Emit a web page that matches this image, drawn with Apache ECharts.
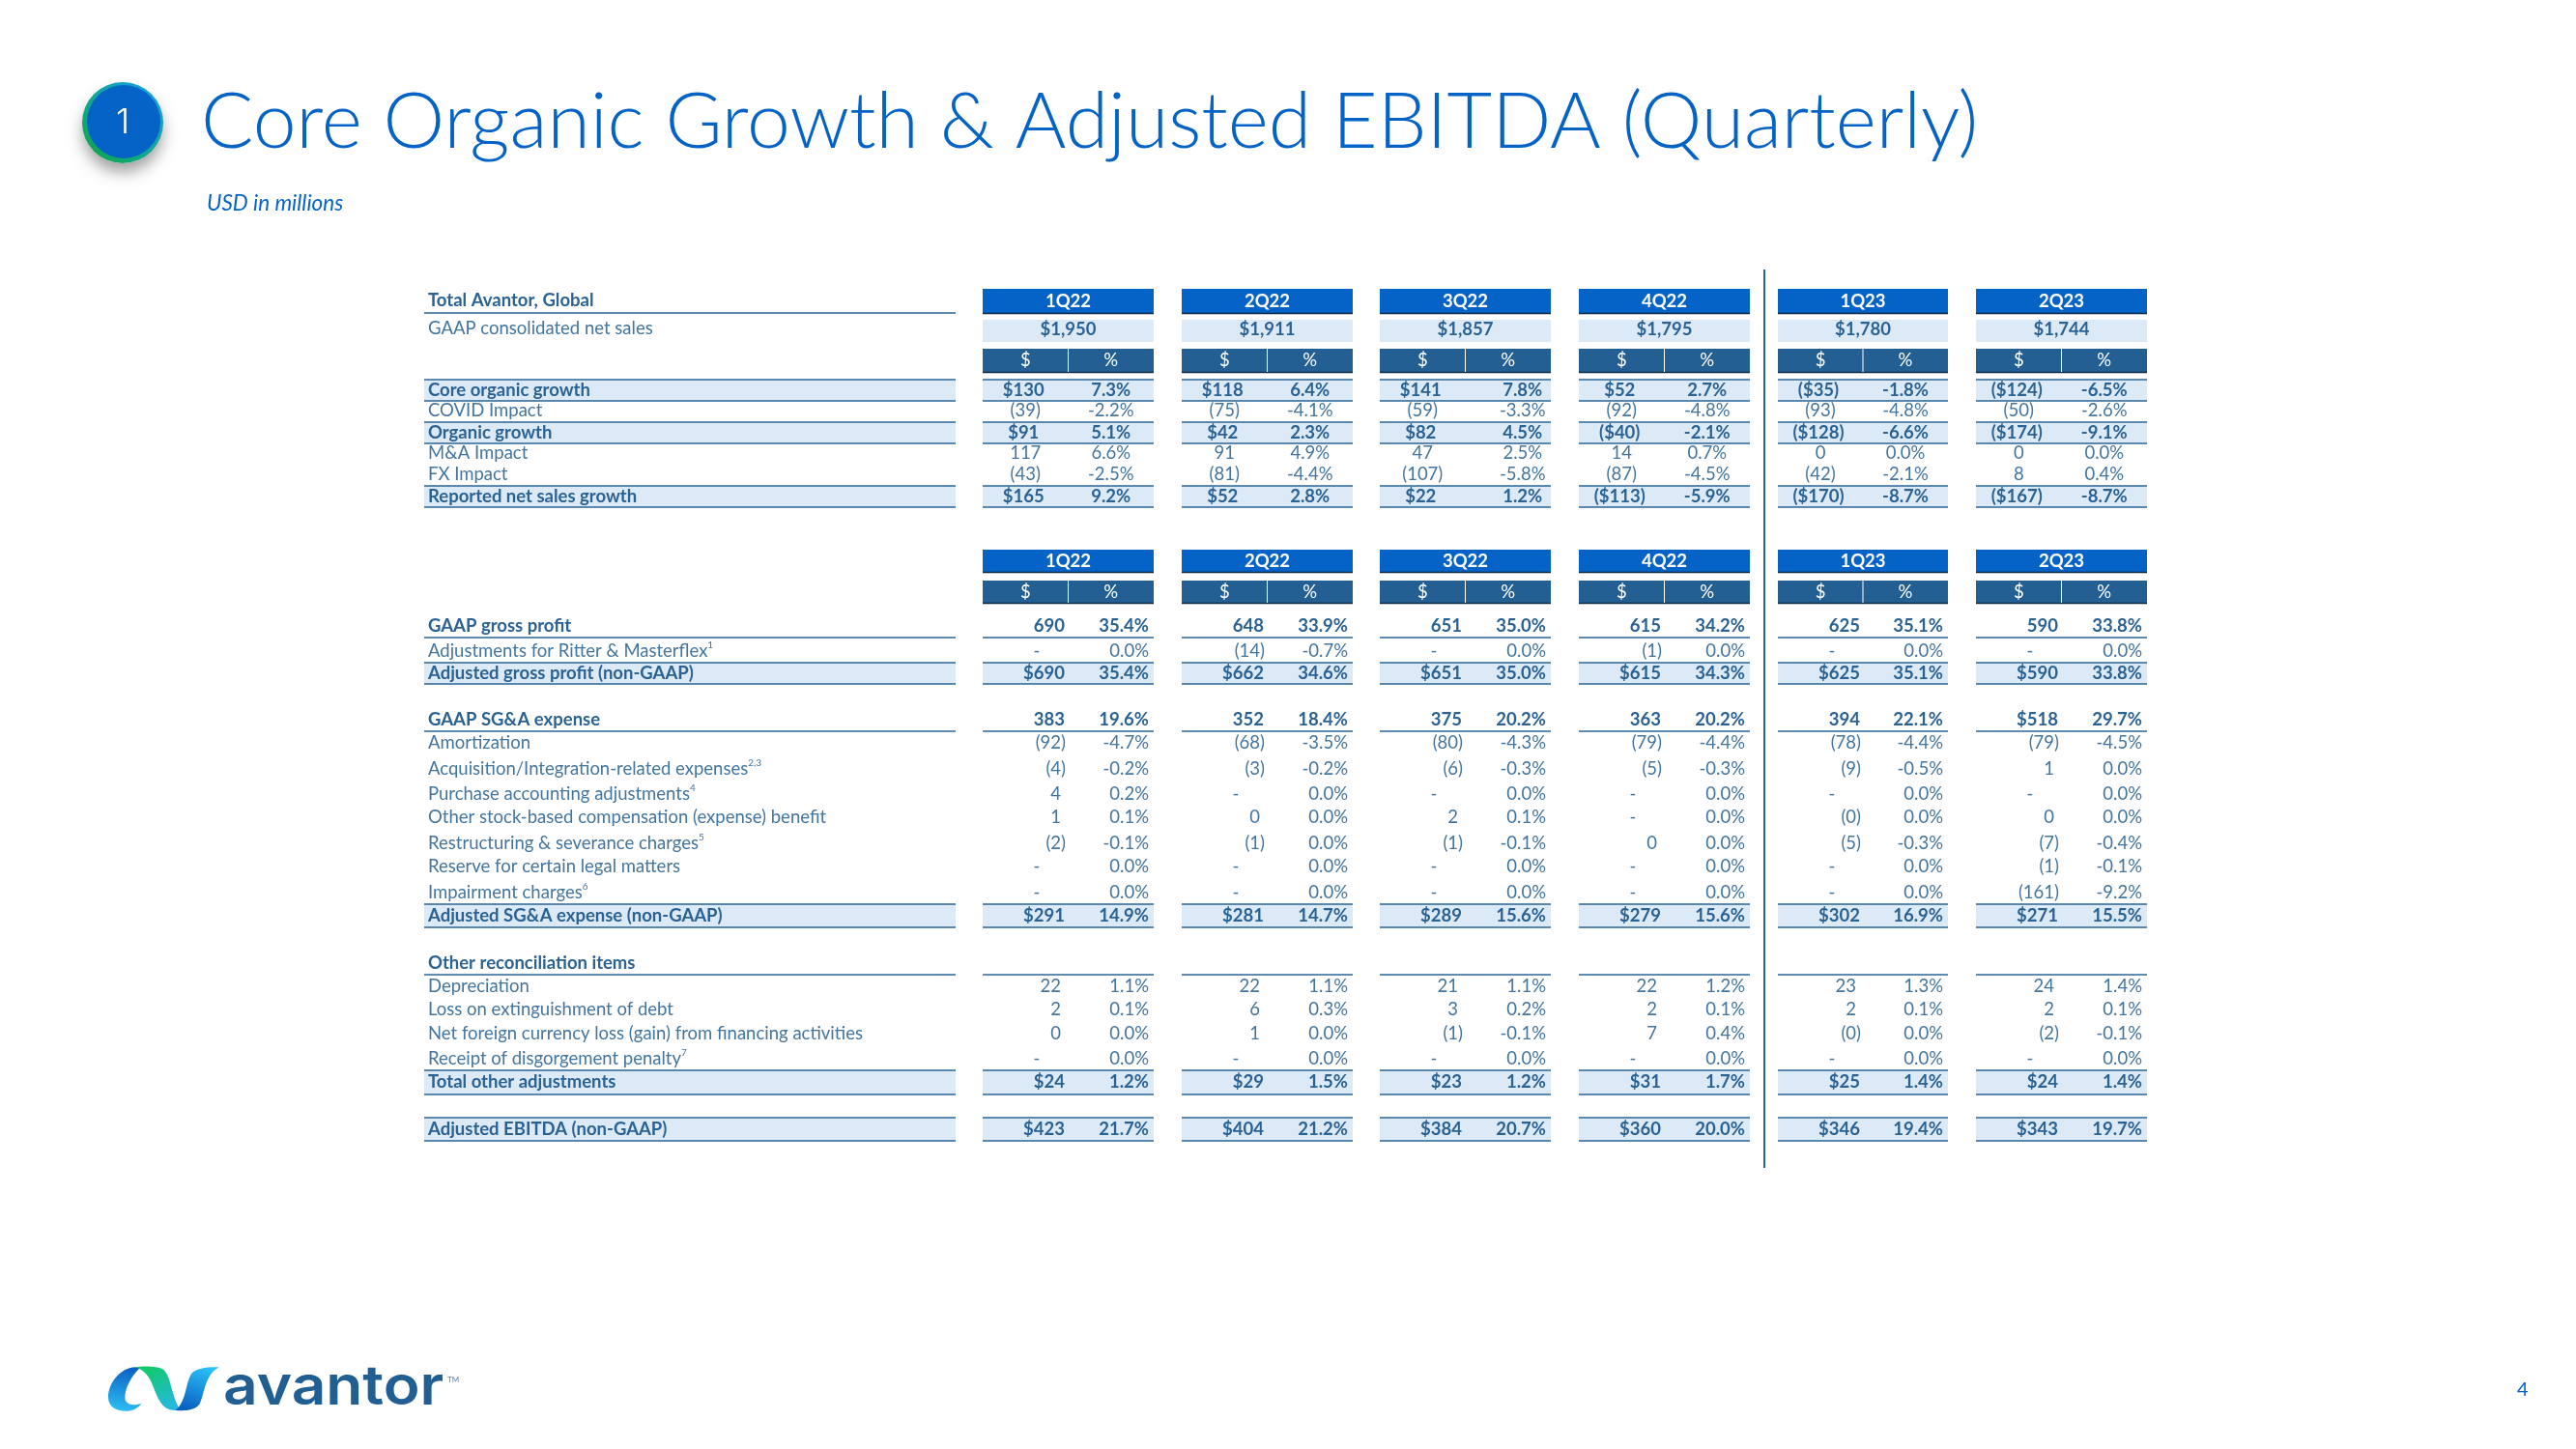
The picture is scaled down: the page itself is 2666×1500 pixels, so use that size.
<!DOCTYPE html>
<html>
<head>
<meta charset="utf-8">
<style>html,body{margin:0;padding:0;background:#fff}#c{width:2666px;height:1500px}</style>
<script src="https://cdn.jsdelivr.net/npm/echarts@6/dist/echarts.min.js"></script>
</head>
<body>
<div id="c"></div>
<script>
// ---------- data ----------
const quarters = ['1Q22','2Q22','3Q22','4Q22','1Q23','2Q23'];
const netSales = ['$1,950','$1,911','$1,857','$1,795','$1,780','$1,744'];

const coreOrganicUsd = ['$130','$118','$141','$52','($35)','($124)'];
const coreOrganicPct = ['7.3%','6.4%','7.8%','2.7%','-1.8%','-6.5%'];
const covidUsd = ['(39)','(75)','(59)','(92)','(93)','(50)'];
const covidPct = ['-2.2%','-4.1%','-3.3%','-4.8%','-4.8%','-2.6%'];
const organicUsd = ['$91','$42','$82','($40)','($128)','($174)'];
const organicPct = ['5.1%','2.3%','4.5%','-2.1%','-6.6%','-9.1%'];
const maUsd = ['117','91','47','14','0','0'];
const maPct = ['6.6%','4.9%','2.5%','0.7%','0.0%','0.0%'];
const fxUsd = ['(43)','(81)','(107)','(87)','(42)','8'];
const fxPct = ['-2.5%','-4.4%','-5.8%','-4.5%','-2.1%','0.4%'];
const reportedUsd = ['$165','$52','$22','($113)','($170)','($167)'];
const reportedPct = ['9.2%','2.8%','1.2%','-5.9%','-8.7%','-8.7%'];

const grossUsd = ['690','648','651','615','625','590'];
const grossPct = ['35.4%','33.9%','35.0%','34.2%','35.1%','33.8%'];
const ritterUsd = ['-','(14)','-','(1)','-','-'];
const ritterPct = ['0.0%','-0.7%','0.0%','0.0%','0.0%','0.0%'];
const adjGrossUsd = ['$690','$662','$651','$615','$625','$590'];
const adjGrossPct = ['35.4%','34.6%','35.0%','34.3%','35.1%','33.8%'];

const sgaUsd = ['383','352','375','363','394','$518'];
const sgaPct = ['19.6%','18.4%','20.2%','20.2%','22.1%','29.7%'];
const amortUsd = ['(92)','(68)','(80)','(79)','(78)','(79)'];
const amortPct = ['-4.7%','-3.5%','-4.3%','-4.4%','-4.4%','-4.5%'];
const acqUsd = ['(4)','(3)','(6)','(5)','(9)','1'];
const acqPct = ['-0.2%','-0.2%','-0.3%','-0.3%','-0.5%','0.0%'];
const purchaseUsd = ['4','-','-','-','-','-'];
const purchasePct = ['0.2%','0.0%','0.0%','0.0%','0.0%','0.0%'];
const stockUsd = ['1','0','2','-','(0)','0'];
const stockPct = ['0.1%','0.0%','0.1%','0.0%','0.0%','0.0%'];
const restructUsd = ['(2)','(1)','(1)','0','(5)','(7)'];
const restructPct = ['-0.1%','0.0%','-0.1%','0.0%','-0.3%','-0.4%'];
const legalUsd = ['-','-','-','-','-','(1)'];
const legalPct = ['0.0%','0.0%','0.0%','0.0%','0.0%','-0.1%'];
const impairUsd = ['-','-','-','-','-','(161)'];
const impairPct = ['0.0%','0.0%','0.0%','0.0%','0.0%','-9.2%'];
const adjSgaUsd = ['$291','$281','$289','$279','$302','$271'];
const adjSgaPct = ['14.9%','14.7%','15.6%','15.6%','16.9%','15.5%'];

const deprUsd = ['22','22','21','22','23','24'];
const deprPct = ['1.1%','1.1%','1.1%','1.2%','1.3%','1.4%'];
const debtUsd = ['2','6','3','2','2','2'];
const debtPct = ['0.1%','0.3%','0.2%','0.1%','0.1%','0.1%'];
const netFxUsd = ['0','1','(1)','7','(0)','(2)'];
const netFxPct = ['0.0%','0.0%','-0.1%','0.4%','0.0%','-0.1%'];
const disgorgeUsd = ['-','-','-','-','-','-'];
const disgorgePct = ['0.0%','0.0%','0.0%','0.0%','0.0%','0.0%'];
const otherUsd = ['$24','$29','$23','$31','$25','$24'];
const otherPct = ['1.2%','1.5%','1.2%','1.7%','1.4%','1.4%'];
const ebitdaUsd = ['$423','$404','$384','$360','$346','$343'];
const ebitdaPct = ['21.7%','21.2%','20.7%','20.0%','19.4%','19.7%'];

// ---------- layout (pixel scale of the hidden axes) ----------
const colLeft  = [1017,1223,1428,1634,1840,2045];
const colRight = [1194,1400,1605,1811,2016,2222];
const pctShift = [0,0,15,0,0,0];            // 3Q22 percent column sits further right in table one
const C = {head:'#0563C8', sub:'#235F93', band:'#DCE9F6', rule:'#2A6496', dark:'#0E2A45', bold:'#2B6294', norm:'#44759F', white:'#ffffff'};
const FONT = 'Lato';
const SIZE = 18.5;
const RULE_W = 1.5;
const TEXT_NUDGE = 1;

// kind: band = filled with rules; head = bold with rule underneath; plain
const topRows = [
  {label:'Core organic growth', usd:coreOrganicUsd, pct:coreOrganicPct, kind:'band', top:393, bottom:415},
  {label:'COVID Impact', usd:covidUsd, pct:covidPct, kind:'plain', y:424},
  {label:'Organic growth', usd:organicUsd, pct:organicPct, kind:'band', top:437, bottom:459},
  {label:'M&A Impact', usd:maUsd, pct:maPct, kind:'plain', y:468},
  {label:'FX Impact', usd:fxUsd, pct:fxPct, kind:'plain', y:490},
  {label:'Reported net sales growth', usd:reportedUsd, pct:reportedPct, kind:'band', top:503, bottom:525}
];
const lowRows = [
  {label:'GAAP gross profit', usd:grossUsd, pct:grossPct, kind:'head', y:647, rule:660},
  {label:'Adjustments for Ritter & Masterflex', sup:'1', usd:ritterUsd, pct:ritterPct, kind:'plain', y:673},
  {label:'Adjusted gross profit (non-GAAP)', usd:adjGrossUsd, pct:adjGrossPct, kind:'band', top:686, bottom:708},
  {label:'GAAP SG&A expense', usd:sgaUsd, pct:sgaPct, kind:'head', y:744, rule:757},
  {label:'Amortization', usd:amortUsd, pct:amortPct, kind:'plain', y:768},
  {label:'Acquisition/Integration-related expenses', sup:'2,3', usd:acqUsd, pct:acqPct, kind:'plain', y:795},
  {label:'Purchase accounting adjustments', sup:'4', usd:purchaseUsd, pct:purchasePct, kind:'plain', y:821},
  {label:'Other stock-based compensation (expense) benefit', usd:stockUsd, pct:stockPct, kind:'plain', y:845},
  {label:'Restructuring & severance charges', sup:'5', usd:restructUsd, pct:restructPct, kind:'plain', y:872},
  {label:'Reserve for certain legal matters', usd:legalUsd, pct:legalPct, kind:'plain', y:896},
  {label:'Impairment charges', sup:'6', usd:impairUsd, pct:impairPct, kind:'plain', y:923},
  {label:'Adjusted SG&A expense (non-GAAP)', usd:adjSgaUsd, pct:adjSgaPct, kind:'band', top:936, bottom:960},
  {label:'Other reconciliation items', kind:'head', y:996, rule:1009},
  {label:'Depreciation', usd:deprUsd, pct:deprPct, kind:'plain', y:1020},
  {label:'Loss on extinguishment of debt', usd:debtUsd, pct:debtPct, kind:'plain', y:1044},
  {label:'Net foreign currency loss (gain) from financing activities', usd:netFxUsd, pct:netFxPct, kind:'plain', y:1069},
  {label:'Receipt of disgorgement penalty', sup:'7', usd:disgorgeUsd, pct:disgorgePct, kind:'plain', y:1095},
  {label:'Total other adjustments', usd:otherUsd, pct:otherPct, kind:'band', top:1108, bottom:1133},
  {label:'Adjusted EBITDA (non-GAAP)', usd:ebitdaUsd, pct:ebitdaPct, kind:'band', top:1157, bottom:1181}
];

// ---------- build marks ----------
const LX0 = 439, LX1 = 989, LT = 443;
const rects = [], rules = [], texts = [];
function rect(x0,x1,y0,y1,fill){rects.push({x0,x1,y0,y1,fill});}
function rule(x0,x1,y,color,w){rules.push({x0,x1,y0:y,y1:y,color,w});}
function vrule(x,y0,y1,color,w){rules.push({x0:x,x1:x,y0,y1,color,w});}
function text(x,y,t,o){texts.push(Object.assign({x,y,t,align:'left',bold:false,fill:C.norm},o||{}));}
function spanAll(fn){fn(LX0,LX1);colLeft.forEach((l,i)=>fn(l,colRight[i]));}

function headerRow(top,bottom){
  colLeft.forEach((l,i)=>{
    rect(l,colRight[i],top,bottom,C.head);
    rule(l,colRight[i],bottom-0.5,C.dark,RULE_W);
    text((l+colRight[i])/2,(top+bottom)/2,quarters[i],{align:'center',bold:true,fill:C.white});
  });
}
function unitRow(top,bottom){
  colLeft.forEach((l,i)=>{
    const m=(l+colRight[i])/2;
    rect(l,colRight[i],top,bottom,C.sub);
    rule(l,colRight[i],bottom-0.5,C.dark,RULE_W);
    vrule(m,top,bottom-1,C.white,1);
    text((l+m)/2,(top+bottom)/2,'$',{align:'center',fill:C.white});
    text((m+colRight[i])/2,(top+bottom)/2,'%',{align:'center',fill:C.white});
  });
}
function placeBands(r){
  spanAll((a,b)=>{
    if(r.kind==='band'){rect(a,b,r.top,r.bottom,C.band);rule(a,b,r.top,C.rule,RULE_W);rule(a,b,r.bottom,C.rule,RULE_W);}
    if(r.kind==='head'){rule(a,b,r.rule,C.rule,RULE_W);}
  });
  r.cy = (r.kind==='band' ? (r.top+r.bottom)/2-1 : r.y)+TEXT_NUDGE;
  r.strong = r.kind!=='plain';
}

// table one: centred values
headerRow(299,325);
text(LT,311,'Total Avantor, Global',{bold:true,fill:C.bold});
rule(LX0,LX1,324,C.rule,RULE_W);
text(LT,340,'GAAP consolidated net sales');
colLeft.forEach((l,i)=>{
  rect(l,colRight[i],331,354,C.band);
  text((l+colRight[i])/2,341,netSales[i],{align:'center',bold:true,fill:C.bold});
});
unitRow(361,386);
topRows.forEach(r=>{
  placeBands(r);
  text(LT,r.cy,r.label,{bold:r.strong,fill:r.strong?C.bold:C.norm});
  colLeft.forEach((l,i)=>{
    const w=(colRight[i]-l)/4;
    const f=r.strong?C.bold:C.norm;
    text(l+w-(r.strong?2:0),r.cy,r.usd[i],{align:'center',bold:r.strong,fill:f});
    text(l+3*w+pctShift[i],r.cy,r.pct[i],{align:'center',bold:r.strong,fill:f});
  });
});

// table two: right-aligned values
headerRow(569,593);
unitRow(601,625);
lowRows.forEach(r=>{
  placeBands(r);
  text(LT,r.cy,r.label,{bold:r.strong,fill:r.strong?C.bold:C.norm,sup:r.sup});
  if(!r.usd) return;
  colLeft.forEach((l,i)=>{
    const f=r.strong?C.bold:C.norm;
    const v=r.usd[i];
    const right=l+85;
    if(v==='-') text(right-29,r.cy,v,{align:'center',fill:f});
    else if(r.strong) text(right,r.cy,v,{align:'right',bold:true,fill:f});
    else if(v[0]==='(') text(right+1,r.cy,v,{align:'right',fill:f});
    else text(right-4,r.cy,v,{align:'right',fill:f});
    text(colRight[i]-5,r.cy,r.pct[i],{align:'right',bold:r.strong,fill:f});
  });
});
const divider = {x:1826,y0:279,y1:1209};
vrule(divider.x,divider.y0,divider.y1,C.rule,2);

// ---------- logo shapes ----------
echarts.graphic.registerShape('ribbonLeft',echarts.graphic.extendPath('M150 76 C100 78 65 130 66 170 C66 200 95 213 125 212 C145 211 160 200 170 188 C150 195 128 195 120 180 C112 160 130 110 165 78 Z',{}));
echarts.graphic.registerShape('ribbonMid',echarts.graphic.extendPath('M150 76 C175 72 215 72 235 82 C262 100 262 170 290 208 L275 210 C230 210 220 170 205 135 C195 108 180 85 150 76 Z',{}));
echarts.graphic.registerShape('ribbonRight',echarts.graphic.extendPath('M410 76 C380 74 340 78 325 95 C305 125 310 180 275 210 C300 212 335 212 350 190 C365 160 365 100 410 76 Z',{}));

// ---------- chart ----------
const chart = echarts.init(document.getElementById('c'),null,{renderer:'canvas'});
const titleBlue = '#0563C8';
chart.setOption({
  animation:false,
  backgroundColor:'#ffffff',
  title:[
    {text:'Core Organic Growth & Adjusted EBITDA (Quarterly)',left:203,top:74,
     textStyle:{color:titleBlue,fontFamily:FONT,fontWeight:300,fontSize:80.5,lineHeight:96}},
    {text:'USD in millions',left:209,top:193,
     textStyle:{color:titleBlue,fontFamily:FONT,fontWeight:400,fontStyle:'italic',fontSize:22.5,lineHeight:26}},
    {text:'4',left:2600,top:1423,textStyle:{color:titleBlue,fontFamily:FONT,fontWeight:400,fontSize:20,lineHeight:22}}
  ],
  grid:{left:0,right:0,top:0,bottom:0,containLabel:false},
  xAxis:{type:'value',min:0,max:2666,show:false},
  yAxis:{type:'value',min:0,max:1500,inverse:true,show:false},
  graphic:[
    {type:'circle',shape:{cx:127,cy:128,r:41},style:{fill:'#ffffff',shadowBlur:16,shadowOffsetY:9,shadowColor:'rgba(0,0,0,0.38)'},z:1},
    {type:'circle',shape:{cx:127,cy:127,r:42},z:2,style:{fill:{type:'linear',x:0,y:1,x2:1,y2:0,colorStops:[{offset:0,color:'#0FA53C'},{offset:0.45,color:'#10A890'},{offset:1,color:'#1A9BF0'}]}}},
    {type:'circle',shape:{cx:128,cy:126,r:38},z:3,style:{fill:'#0563C8'}},
    {type:'text',x:127,y:127,z:4,style:{text:'1',fill:'#fff',fontFamily:'Inter',fontWeight:300,fontSize:36,align:'center',verticalAlign:'middle'}},
    {type:'group',x:90,y:1390,scaleX:1/3,scaleY:1/3,z:5,children:[
      {type:'ribbonLeft',shape:{},
       style:{fill:{type:'linear',x:0.6,y:0,x2:0.4,y2:1,colorStops:[{offset:0,color:'#0A5FC4'},{offset:1,color:'#2DBDF2'}]}}},
      {type:'ribbonMid',shape:{},
       style:{fill:{type:'linear',x:0.3,y:0,x2:0.7,y2:1,colorStops:[{offset:0,color:'#12C96B'},{offset:1,color:'#25B9E0'}]}}},
      {type:'ribbonRight',shape:{},
       style:{fill:{type:'linear',x:0.7,y:0,x2:0.3,y2:1,colorStops:[{offset:0,color:'#2AC0F8'},{offset:1,color:'#0A5FC0'}]}}}
    ]},
    {type:'text',x:231,y:1437,scaleX:1.11,z:5,style:{text:'avantor',fill:'#215F93',fontFamily:'Inter',fontWeight:600,fontSize:56,align:'left',verticalAlign:'middle'}},
    {type:'text',x:463,y:1428,z:5,style:{text:'TM',fill:'#5f82a5',fontFamily:FONT,fontSize:8,align:'left',verticalAlign:'middle'}}
  ],
  series:[
    {type:'custom',name:'bands',coordinateSystem:'cartesian2d',silent:true,clip:false,z:2,
     data:rects.map(r=>[r.x0,r.y0,r.x1,r.y1]),encode:{x:[0,2],y:[1,3]},
     renderItem(p,api){
       const a=api.coord([api.value(0),api.value(1)]),b=api.coord([api.value(2),api.value(3)]);
       return {type:'rect',shape:{x:a[0],y:a[1],width:b[0]-a[0],height:b[1]-a[1]},style:{fill:rects[p.dataIndex].fill}};
     }},
    {type:'custom',name:'rules',coordinateSystem:'cartesian2d',silent:true,clip:false,z:3,
     data:rules.map(r=>[r.x0,r.y0,r.x1,r.y1]),encode:{x:[0,2],y:[1,3]},
     renderItem(p,api){
       const a=api.coord([api.value(0),api.value(1)]),b=api.coord([api.value(2),api.value(3)]);
       const r=rules[p.dataIndex];
       return {type:'line',shape:{x1:a[0],y1:a[1],x2:b[0],y2:b[1]},style:{stroke:r.color,lineWidth:r.w}};
     }},
    {type:'custom',name:'cells',coordinateSystem:'cartesian2d',silent:true,clip:false,z:4,
     data:texts.map(t=>[t.x,t.y]),encode:{x:0,y:1},
     renderItem(p,api){
       const c=api.coord([api.value(0),api.value(1)]),t=texts[p.dataIndex];
       const style={fill:t.fill,fontFamily:FONT,fontSize:SIZE,fontWeight:t.bold?700:400,align:t.align,verticalAlign:'middle'};
       if(t.sup){
         style.text='{n|'+t.t+'}{s|'+t.sup+'}';
         style.rich={n:{fontFamily:FONT,fontSize:SIZE,fill:t.fill,lineHeight:22},s:{fontFamily:FONT,fontSize:10,fill:t.fill,verticalAlign:'top',lineHeight:22}};
       }else style.text=t.t;
       return {type:'text',x:c[0],y:c[1],style};
     }}
  ]
});
</script>
</body>
</html>
